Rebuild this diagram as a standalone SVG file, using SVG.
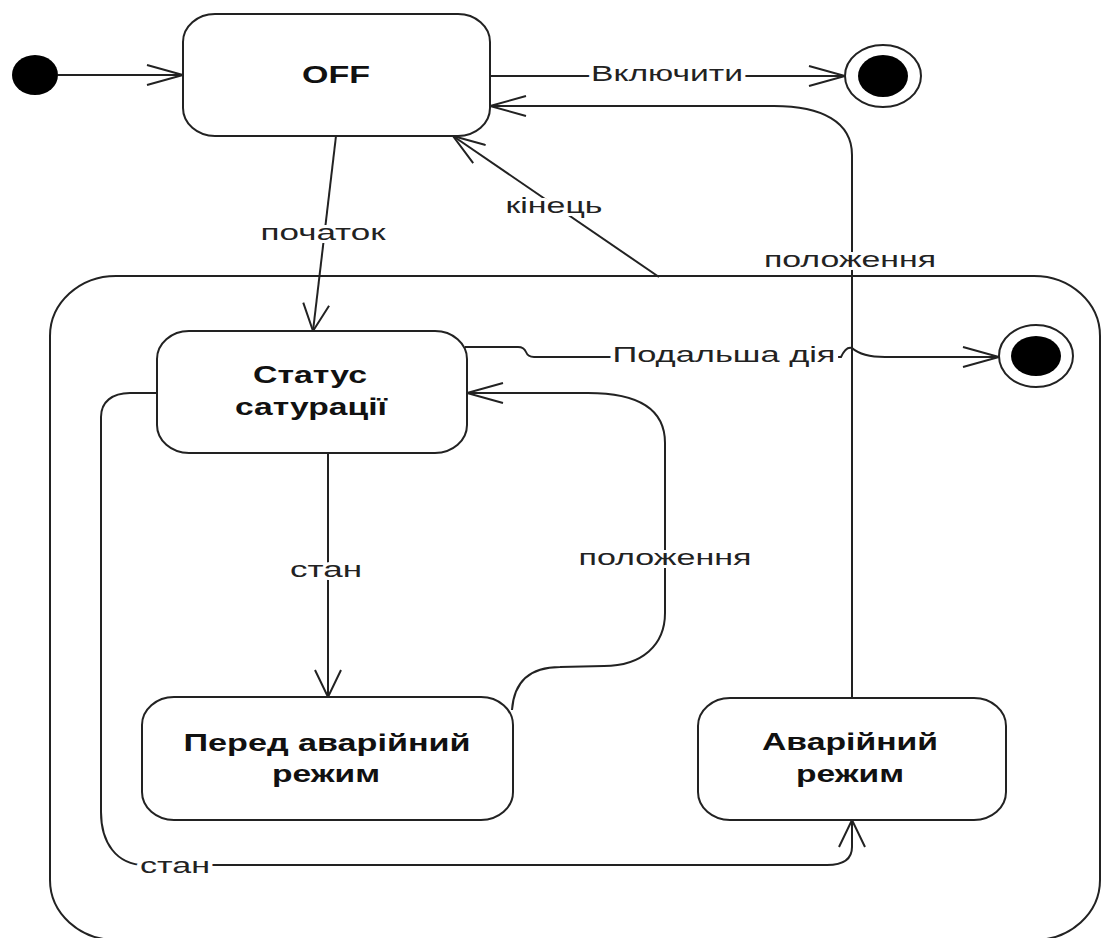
<svg xmlns="http://www.w3.org/2000/svg" width="1102" height="938" viewBox="0 0 1102 938">
  <style>
    .state { fill: #fff; stroke: #222; stroke-width: 2; }
    .super { fill: none; stroke: #222; stroke-width: 2; }
    .name { font-family: "Liberation Sans", Arial, sans-serif; font-size: 23px; font-weight: bold; fill: #111; text-anchor: middle; }
    .edge { fill: none; stroke: #222; stroke-width: 2; }
    .lbl { font-family: "Liberation Sans", Arial, sans-serif; font-size: 22px; fill: #222; text-anchor: middle; stroke: #fff; stroke-width: 6; paint-order: stroke; stroke-linejoin: round; }
    .head { fill: none; stroke: #222; stroke-width: 2; }
  </style>
  <defs>
    <!-- open arrowheads: long/flat for horizontal runs, short/wide for vertical runs -->
    <marker id="ah" viewBox="0 0 38 22" refX="37" refY="11" markerWidth="38" markerHeight="22" markerUnits="userSpaceOnUse" orient="auto">
      <path class="head" d="M1,1 L37,11 L1,21"/>
    </marker>
    <marker id="av" viewBox="0 0 29 28" refX="28" refY="14" markerWidth="29" markerHeight="28" markerUnits="userSpaceOnUse" orient="auto">
      <path class="head" d="M1,1 L28,14 L1,27"/>
    </marker>
    <marker id="ad" viewBox="0 0 34 24" refX="33" refY="12" markerWidth="34" markerHeight="24" markerUnits="userSpaceOnUse" orient="auto">
      <path class="head" d="M1,1 L33,12 L1,23"/>
    </marker>
  </defs>

  <!-- composite state -->
  <g id="superstate">
    <rect class="super" x="50" y="276" width="1050" height="664" rx="66" ry="60"/>
  </g>

  <!-- transitions -->
  <g id="connectors">
    <path class="edge" d="M58,75 L183,75" marker-end="url(#ah)"/>
    <path class="edge" d="M490,76 L845,76" marker-end="url(#ah)"/>
    <path class="edge" d="M852,698 L852,155 C852,122 822,106 774,106 L490,106" marker-end="url(#ah)"/>
    <path class="edge" d="M659,277 L453,136" marker-end="url(#ad)"/>
    <path class="edge" d="M336,136 L313,331" marker-end="url(#av)"/>
    <path class="edge" d="M465,347 L518,347 Q524,347 526,352 Q528,357 534,357 L841,357 Q846,346 852,348 Q862,357 885,357 L999,357" marker-end="url(#ah)"/>
    <path class="edge" d="M512,710 C514,682 530,667 560,667 L604,666 C642,666 665,645 665,613 L665,443 C665,410 640,393 588,393 L467,393" marker-end="url(#ah)"/>
    <path class="edge" d="M328,453 L328,697" marker-end="url(#av)"/>
    <path class="edge" d="M157,393 L130,393 C112,393 101,402 101,417 L101,812 C101,842 116,865 145,865 L827,865 C845,865 852,858 852,847 L852,820" marker-end="url(#av)"/>

    <!-- backing for the two-word label so the line does not show between words -->
    <rect x="612" y="344" width="226" height="24" fill="#fff"/>

    <text class="lbl" x="667" y="81" textLength="152" lengthAdjust="spacingAndGlyphs">Включити</text>
    <text class="lbl" x="850" y="267" textLength="172" lengthAdjust="spacingAndGlyphs">положення</text>
    <text class="lbl" x="554" y="213" textLength="97" lengthAdjust="spacingAndGlyphs">кінець</text>
    <text class="lbl" x="323" y="240" textLength="125" lengthAdjust="spacingAndGlyphs">початок</text>
    <text class="lbl" x="724" y="362" textLength="223" lengthAdjust="spacingAndGlyphs">Подальша дія</text>
    <text class="lbl" x="665" y="565" textLength="173" lengthAdjust="spacingAndGlyphs">положення</text>
    <text class="lbl" x="326" y="577" textLength="72" lengthAdjust="spacingAndGlyphs">стан</text>
    <text class="lbl" x="175" y="873" textLength="70" lengthAdjust="spacingAndGlyphs">стан</text>
  </g>

  <g id="initial">
    <ellipse cx="35" cy="75" rx="23" ry="20" fill="#000"/>
  </g>

  <g id="final-off">
    <ellipse cx="883" cy="76" rx="38" ry="31" fill="#fff" stroke="#222" stroke-width="2"/>
    <ellipse cx="883" cy="76" rx="25" ry="21" fill="#000"/>
  </g>

  <g id="final-inner">
    <ellipse cx="1036" cy="356" rx="37" ry="31" fill="#fff" stroke="#222" stroke-width="2"/>
    <ellipse cx="1036" cy="356" rx="25" ry="20" fill="#000"/>
  </g>

  <g id="off">
    <rect class="state" x="183" y="14" width="307" height="122" rx="32" ry="28"/>
    <text class="name" x="336" y="83" textLength="68" lengthAdjust="spacingAndGlyphs">OFF</text>
  </g>

  <g id="status">
    <rect class="state" x="157" y="331" width="310" height="122" rx="32" ry="28"/>
    <text class="name" x="310" y="383" textLength="114" lengthAdjust="spacingAndGlyphs">Статус</text>
    <text class="name" x="311" y="415" textLength="152" lengthAdjust="spacingAndGlyphs">сатурації</text>
  </g>

  <g id="pre-emergency">
    <rect class="state" x="142" y="697" width="371" height="123" rx="32" ry="28"/>
    <text class="name" x="327" y="751" textLength="287" lengthAdjust="spacingAndGlyphs">Перед аварійний</text>
    <text class="name" x="326" y="782" textLength="108" lengthAdjust="spacingAndGlyphs">режим</text>
  </g>

  <g id="emergency">
    <rect class="state" x="698" y="698" width="308" height="122" rx="32" ry="28"/>
    <text class="name" x="850" y="750" textLength="176" lengthAdjust="spacingAndGlyphs">Аварійний</text>
    <text class="name" x="850" y="782" textLength="108" lengthAdjust="spacingAndGlyphs">режим</text>
  </g>
</svg>
